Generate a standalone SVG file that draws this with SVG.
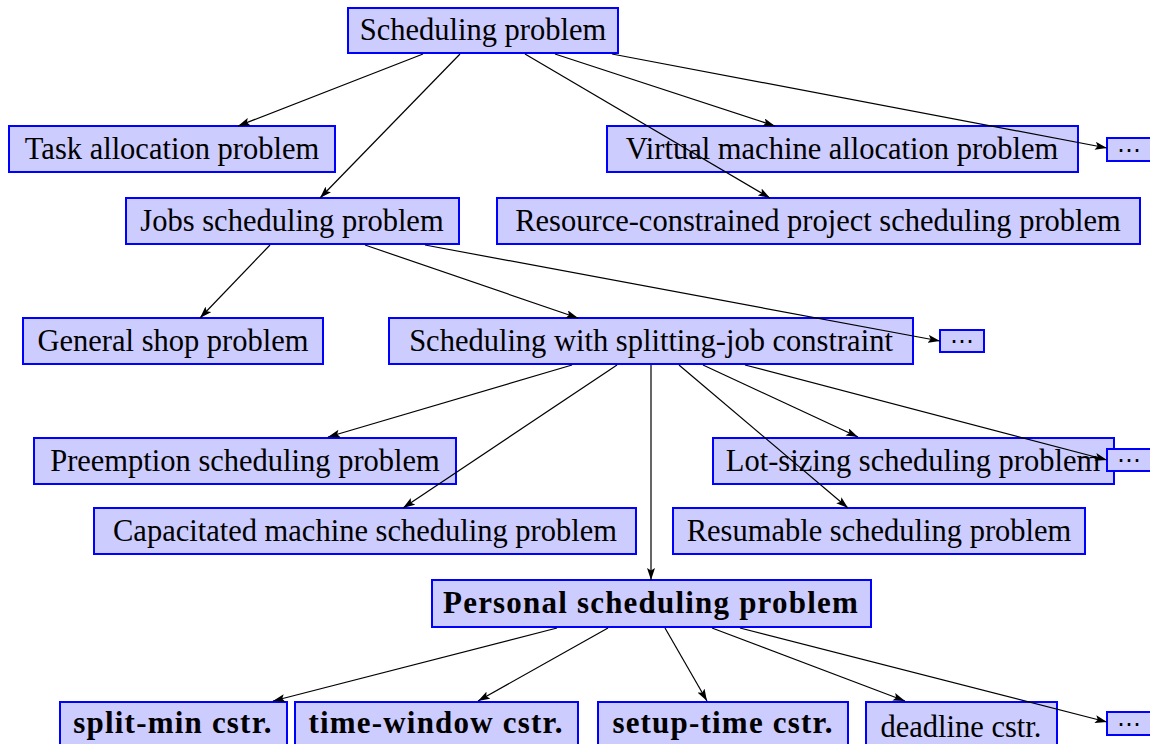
<svg xmlns="http://www.w3.org/2000/svg" width="1150" height="744" viewBox="0 0 1150 744">
<defs>
<marker id="ah" viewBox="0 0 12 8" refX="12" refY="4" markerWidth="12" markerHeight="8" markerUnits="userSpaceOnUse" orient="auto">
<path d="M0,0 L12,4 L0,8 L2.5,4 Z" fill="#000"/>
</marker>
<style>
.n rect{fill:#ccccff;stroke:#0000ff;stroke-width:2}
.n text{font-family:"Liberation Serif","DejaVu Serif",serif;font-size:30.5px;fill:#000;text-anchor:middle}
.n text.b{font-weight:bold;font-size:31px;letter-spacing:1.2px}
.n text.d{font-family:"DejaVu Serif",serif;font-size:24px}
#edges line{stroke:#000;stroke-width:1.2;marker-end:url(#ah)}
</style>
</defs>
<rect width="1150" height="744" fill="#fff"/>
<g id="n-sched" class="n"><rect x="348" y="8" width="270" height="45"/><text x="483" y="40">Scheduling problem</text></g>
<g id="n-task" class="n"><rect x="9" y="126" width="326" height="46"/><text x="172" y="159">Task allocation problem</text></g>
<g id="n-vm" class="n"><rect x="607" y="126" width="471" height="46"/><text x="842" y="159">Virtual machine allocation problem</text></g>
<g id="n-dots1" class="n"><rect x="1107" y="138" width="50" height="23"/><text class="d" x="1129" y="158">⋯</text></g>
<g id="n-jobs" class="n"><rect x="126" y="198" width="333" height="46"/><text x="292" y="231">Jobs scheduling problem</text></g>
<g id="n-rcpsp" class="n"><rect x="497" y="198" width="643" height="46"/><text x="818" y="231">Resource-constrained project scheduling problem</text></g>
<g id="n-shop" class="n"><rect x="23" y="318" width="300" height="46"/><text x="173" y="351">General shop problem</text></g>
<g id="n-split" class="n"><rect x="389" y="318" width="524" height="46"/><text x="651" y="351">Scheduling with splitting-job constraint</text></g>
<g id="n-dots2" class="n"><rect x="940" y="330" width="44" height="22"/><text class="d" x="962" y="349">⋯</text></g>
<g id="n-pre" class="n"><rect x="34" y="438" width="422" height="46"/><text x="245" y="471">Preemption scheduling problem</text></g>
<g id="n-lot" class="n"><rect x="713" y="438" width="401" height="46"/><text x="913" y="471">Lot-sizing scheduling problem</text></g>
<g id="n-dots3" class="n"><rect x="1107" y="449" width="50" height="22"/><text class="d" x="1129" y="468">⋯</text></g>
<g id="n-cap" class="n"><rect x="94" y="508" width="542" height="46"/><text x="365" y="541">Capacitated machine scheduling problem</text></g>
<g id="n-res" class="n"><rect x="673" y="508" width="412" height="46"/><text x="879" y="541">Resumable scheduling problem</text></g>
<g id="n-pers" class="n"><rect x="432" y="580" width="439" height="47"/><text class="b" x="651" y="613">Personal scheduling problem</text></g>
<g id="n-smin" class="n"><rect x="60" y="702" width="227" height="50"/><text class="b" x="173" y="733">split-min cstr.</text></g>
<g id="n-tw" class="n"><rect x="295" y="702" width="283" height="50"/><text class="b" x="436" y="733">time-window cstr.</text></g>
<g id="n-setup" class="n"><rect x="598" y="702" width="250" height="50"/><text class="b" x="723" y="733">setup-time cstr.</text></g>
<g id="n-dead" class="n"><rect x="866" y="702" width="191" height="50"/><text x="961" y="737">deadline cstr.</text></g>
<g id="n-dots4" class="n"><rect x="1107" y="712" width="50" height="23"/><text class="d" x="1129" y="732">⋯</text></g>
<g id="edges">
<line x1="423" y1="54" x2="238" y2="126"/>
<line x1="460" y1="54" x2="320" y2="198"/>
<line x1="525" y1="54" x2="770" y2="198"/>
<line x1="555" y1="54" x2="775" y2="126"/>
<line x1="612" y1="54" x2="1107" y2="148"/>
<line x1="270" y1="245" x2="200" y2="318"/>
<line x1="365" y1="245" x2="578" y2="318"/>
<line x1="425" y1="245" x2="940" y2="341"/>
<line x1="572" y1="365" x2="328" y2="437"/>
<line x1="617" y1="365" x2="403" y2="508"/>
<line x1="651" y1="365" x2="651" y2="580"/>
<line x1="679" y1="365" x2="848" y2="508"/>
<line x1="703" y1="365" x2="858" y2="437"/>
<line x1="745" y1="365" x2="1107" y2="460"/>
<line x1="557" y1="628" x2="273" y2="701"/>
<line x1="608" y1="628" x2="478" y2="701"/>
<line x1="665" y1="628" x2="707" y2="701"/>
<line x1="712" y1="628" x2="905" y2="701"/>
<line x1="740" y1="628" x2="1107" y2="722"/>
</g>
</svg>
